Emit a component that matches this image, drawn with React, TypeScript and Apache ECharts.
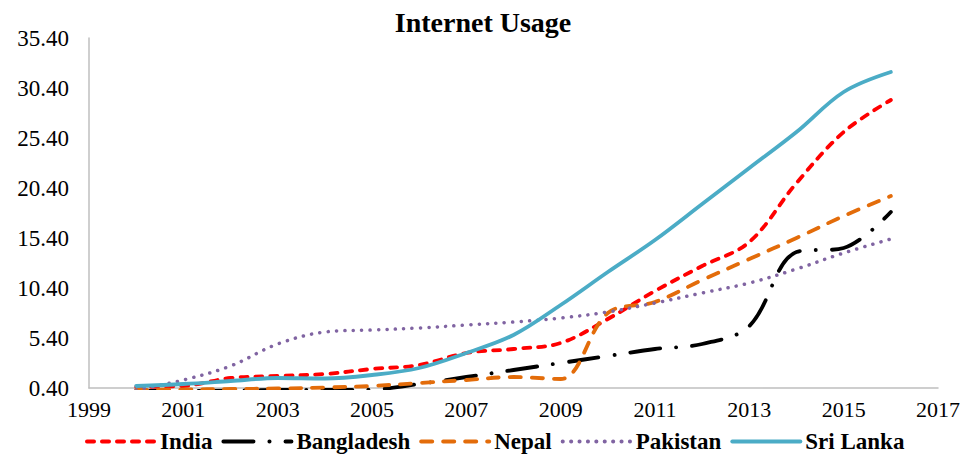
import React, { useEffect, useRef } from "react";
import * as echarts from "echarts";

const years = [2000, 2001, 2002, 2003, 2004, 2005, 2006, 2007, 2008, 2009, 2010, 2011, 2012, 2013, 2014, 2015, 2016];
const india = [0.5, 0.6, 1.4, 1.6, 1.8, 2.3, 2.7, 3.9, 4.3, 4.9, 7.3, 10.1, 12.6, 15.0, 20.9, 26.0, 29.2];
const bangladesh = [0.1, 0.1, 0.15, 0.2, 0.2, 0.25, 0.8, 1.5, 2.2, 2.9, 3.6, 4.3, 4.8, 6.6, 14.0, 14.4, 18.0];
const nepal = [0.2, 0.25, 0.3, 0.35, 0.45, 0.6, 0.9, 1.2, 1.5, 1.3, 7.9, 9.0, 11.2, 13.3, 15.4, 17.6, 19.6];
const pakistan = [0.2, 1.2, 2.6, 4.8, 6.0, 6.2, 6.4, 6.7, 7.0, 7.4, 8.0, 8.9, 9.9, 10.9, 12.3, 13.9, 15.3];
const sriLanka = [0.6, 0.8, 1.1, 1.4, 1.35, 1.7, 2.4, 3.9, 5.7, 8.7, 12.0, 15.2, 18.8, 22.4, 26.0, 30.0, 32.0];

const FONT = "'Liberation Serif', 'Times New Roman', serif";

function pairs(vals: number[]) {
  return years.map((y, i) => [y, vals[i]]);
}

export default function App() {
  const ref = useRef<HTMLDivElement>(null);
  useEffect(() => {
    document.body.style.margin = "0";
    if (!ref.current) return;
    const chart = echarts.init(ref.current, undefined, { renderer: "svg" });
    const mk = (name: string, vals: number[], color: string, type: any, width: number) => ({
      name,
      type: "line",
      data: pairs(vals),
      smooth: 0.35,
      symbol: "none",
      showSymbol: false,
      lineStyle: { color, type, width, cap: "round", join: "round" },
      itemStyle: { color },
    });
    chart.setOption({
      animation: false,
      title: {
        text: "Internet Usage",
        left: "center",
        top: 3,
        textStyle: { fontFamily: FONT, fontWeight: "bold", fontSize: 28, color: "#000" },
      },
      grid: { left: 89, right: 28, top: 38, bottom: 72 },
      xAxis: {
        type: "value",
        min: 1999,
        max: 2017,
        interval: 2,
        axisLine: { show: true, lineStyle: { color: "#bfbfbf", width: 1.5 } },
        axisTick: { show: false },
        splitLine: { show: false },
        axisLabel: {
          fontFamily: FONT,
          fontSize: 22,
          color: "#000",
          margin: 10,
          formatter: (v: number) => String(v),
        },
      },
      yAxis: {
        type: "value",
        min: 0.4,
        max: 35.4,
        interval: 5,
        axisLine: { show: true, lineStyle: { color: "#bfbfbf", width: 1.5 } },
        axisTick: { show: false },
        splitLine: { show: false },
        axisLabel: {
          fontFamily: FONT,
          fontSize: 23,
          color: "#000",
          margin: 20,
          formatter: (v: number) => v.toFixed(2),
        },
      },
      legend: {
        bottom: 2,
        left: 80,
        itemWidth: 68,
        itemHeight: 18,
        itemGap: 9,
        itemStyle: { color: "rgba(0,0,0,0)", opacity: 0, borderWidth: 0 },
        lineStyle: { width: 4 },
        textStyle: { fontFamily: FONT, fontWeight: "bold", fontSize: 23, color: "#000" },
        data: ["India", "Bangladesh", "Nepal", "Pakistan", "Sri Lanka"],
      },
      series: [
        mk("India", india, "#ff0000", [7, 8], 3.8),
        mk("Bangladesh", bangladesh, "#000000", [30, 16, 0.1, 16], 3.8),
        mk("Nepal", nepal, "#e36c0a", [11, 11], 3.8),
        mk("Pakistan", pakistan, "#8064a2", [0.1, 8.3], 3.5),
        mk("Sri Lanka", sriLanka, "#4bacc6", "solid", 3.8),
      ],
    });
    return () => chart.dispose();
  }, []);
  return <div ref={ref} style={{ width: 966, height: 460 }} />;
}
